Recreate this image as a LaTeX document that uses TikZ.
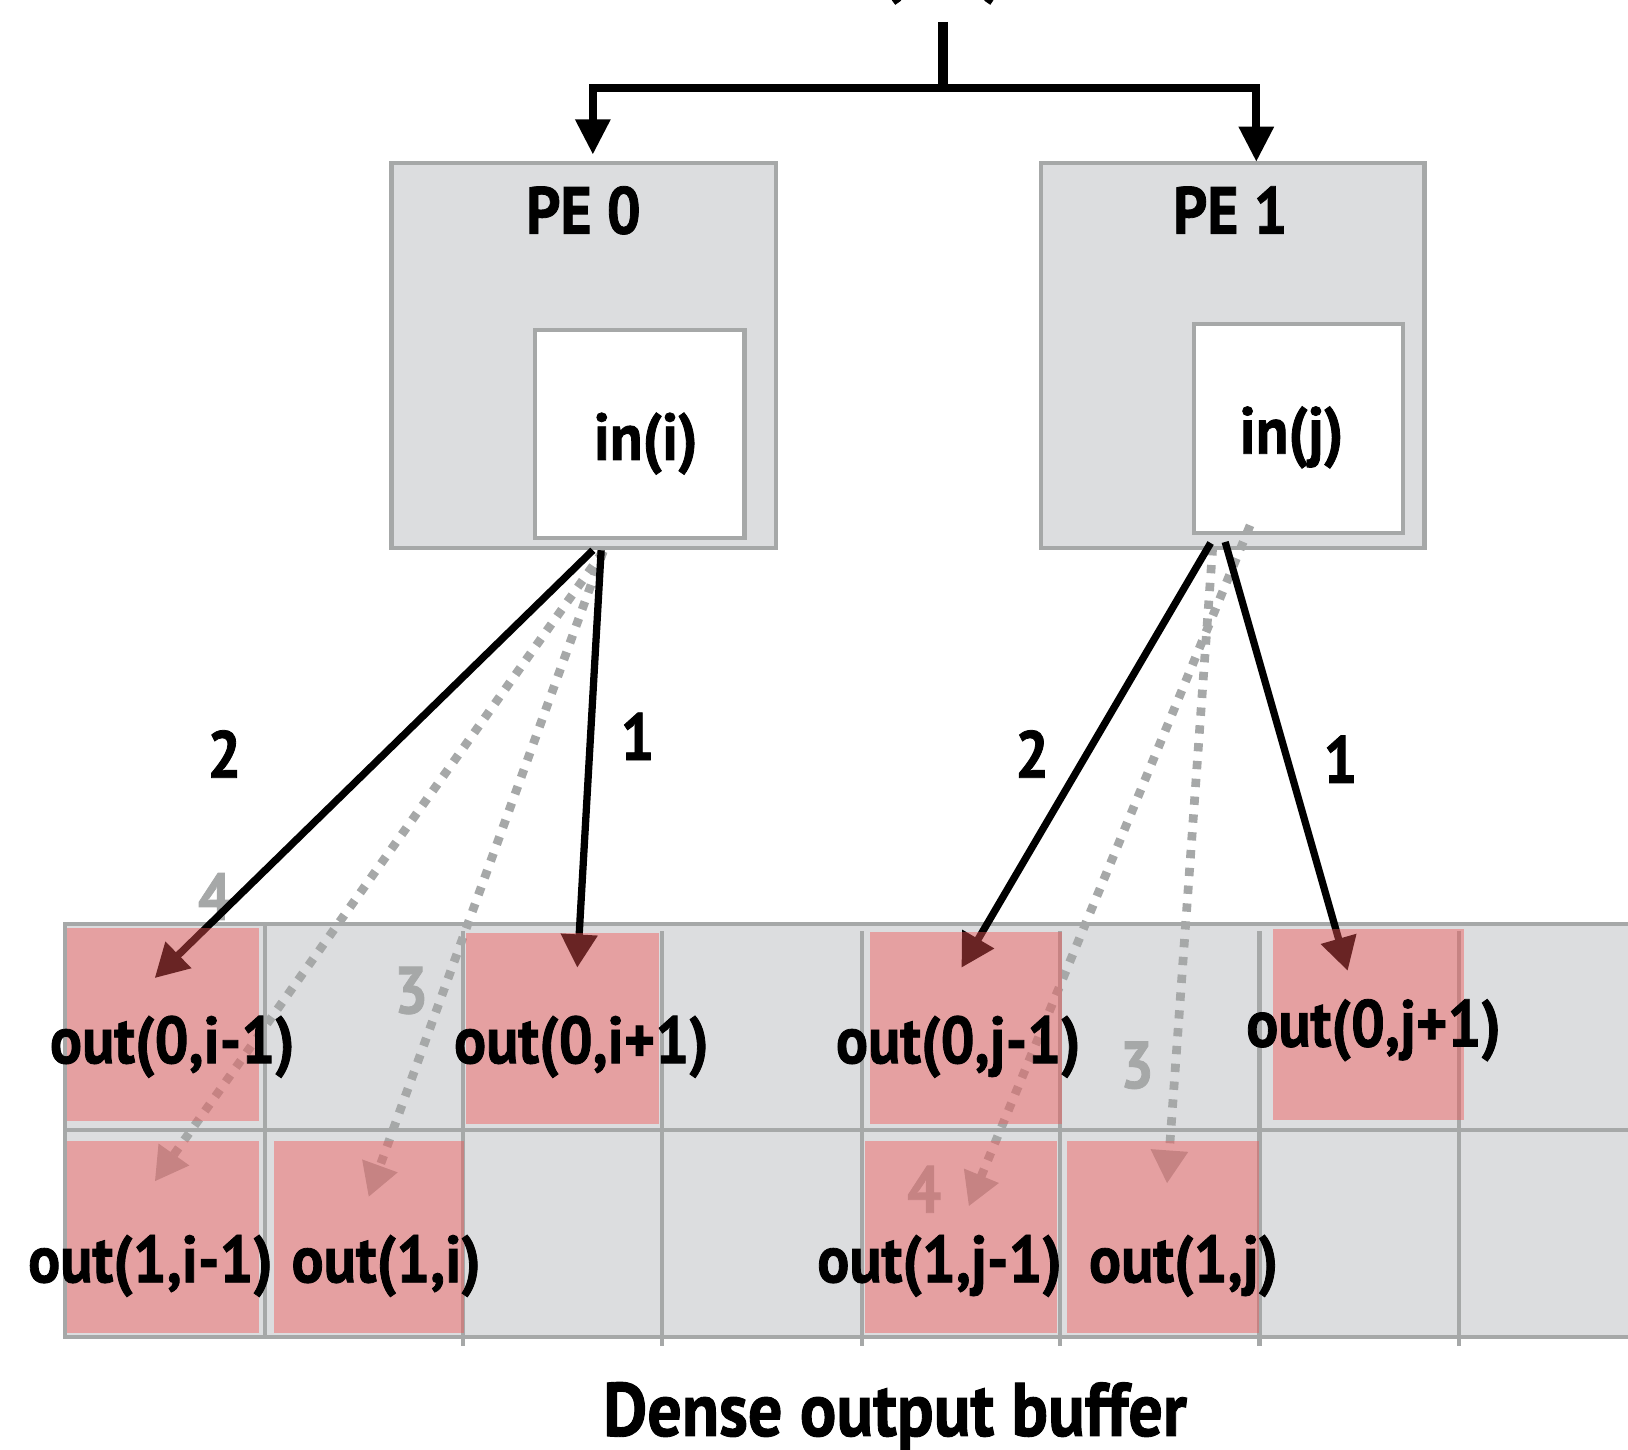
\documentclass[tikz,border=0pt]{standalone}
\usepackage{fontspec}
\usetikzlibrary{arrows.meta,fit}
\newfontfamily\lblfamily[FakeStretch=0.9,BoldFeatures={FakeStretch=0.9,FakeBold=1.2}]{PT Sans}
\newcommand{\lblfont}{\lblfamily\bfseries\fontsize{32}{38}\selectfont}
\newcommand{\capfont}{\lblfamily\bfseries\fontsize{36.5}{42}\selectfont}
\definecolor{boxgray}{RGB}{220,221,223}
\definecolor{linegray}{RGB}{166,168,168}
\definecolor{cellred}{RGB}{241,84,84}
\tikzset{
  pebox/.style={draw=linegray, line width=2pt, fill=boxgray, inner sep=0pt},
  inbox/.style={draw=linegray, line width=2pt, fill=white, inner sep=0pt},
  gridline/.style={draw=linegray, line width=2pt},
  hit/.style={fill=cellred, fill opacity=0.44, inner sep=0pt},
  lbl/.style={font=\lblfont, text=black, inner sep=0pt, anchor=base},
  grynum/.style={font=\lblfont, text=linegray, inner sep=0pt, anchor=base},
  tree/.style={line width=4pt, -{Triangle[length=17pt,width=16pt]}},
  flow/.style={line width=3.5pt, -{Triangle[length=16pt,width=17pt]}},
  spill/.style={draw=linegray, line width=4.2pt, dash pattern=on 4pt off 4.6pt,
                -{Triangle[length=16pt,width=17pt]}},
}
\begin{document}
\begin{tikzpicture}[x=0.5pt,y=-0.5pt]
\useasboundingbox (0,0) rectangle (1568,1396);
\clip (0,0) rectangle (1568,1396);

% processing elements
\node[pebox, fit={(377,157) (747,528)}] (pe0) {};
\node[pebox, fit={(1003,157) (1372,528)}] (pe1) {};
\node[inbox, fit={(515,318) (717,518)}] (inI) {};
\node[inbox, fit={(1150,312) (1351,513)}] (inJ) {};

% distribution tree at the top
\node[lbl] (src) at (908,-10) {(0,1)};
\coordinate (stem) at (908,21);
\coordinate (fork) at (908,85);
\coordinate (tip0) at (571,149);
\coordinate (tip1) at (1210,156);
\draw[line width=4.8pt] (stem) -- ([yshift=2pt]fork);
\draw[tree] (fork) -| (tip0);
\draw[tree] (fork) -| (tip1);

% dense output buffer grid
\node[pebox, fit={(63,890) (1620,1288)}] (buf) {};
\draw[gridline] (buf.west |- 0,1088) -- (1620,1088);
\draw[gridline] (255,890) -- (255,1288);
\foreach \x in {446,638,830,1021,1213,1405}
  \draw[gridline] (\x,897) -- (\x,1296);

% step numbers
\node[lbl] (n2a) at (216,749) {2};
\node[lbl] (n1a) at (614,732) {1};
\node[lbl] (n2b) at (994,749) {2};
\node[lbl] (n1b) at (1291,754) {1};
\node[grynum] (n4a) at (207,886) {4};
\node[grynum] (n3a) at (396,976) {3};
\node[grynum] (n3b) at (1095,1048) {3};
\node[grynum] (n4b) at (890,1168) {4};

% arrow origins and targets
\coordinate (a2) at (571,530);
\coordinate (a1) at (579,530);
\coordinate (as) at (581,531);
\coordinate (b2) at (1166,523);
\coordinate (b1) at (1180,522);
\coordinate (b3) at (1168,527);
\coordinate (b4) at (1204,506);
\coordinate (t00) at (149,942);
\coordinate (t02) at (556,932);
\coordinate (t10) at (149,1138);
\coordinate (t11) at (355,1153);
\coordinate (t04) at (926,932);
\coordinate (t06) at (1298,935);
\coordinate (t15) at (1124,1140);
\coordinate (t14) at (933,1162);

\draw[spill] (as) -- (t10);
\draw[spill] (as) -- (t11);
\draw[spill] (b4) -- (t14);
\draw[spill] (b3) -- (t15);
\draw[flow] (a2) -- (t00);
\draw[flow] (a1) -- (t02);
\draw[flow] (b2) -- (t04);
\draw[flow] (b1) -- (t06);

% written cells
\node[hit, fit={(65,894) (249,1080)}] (c00) {};
\node[hit, fit={(449,899) (635,1083)}] (c02) {};
\node[hit, fit={(838,898) (1023,1083)}] (c04) {};
\node[hit, fit={(1226,895) (1410,1079)}] (c06) {};
\node[hit, fit={(65,1099) (249,1284)}] (c10) {};
\node[hit, fit={(264,1099) (447,1284)}] (c11) {};
\node[hit, fit={(833,1099) (1018,1284)}] (c14) {};
\node[hit, fit={(1028,1099) (1213,1284)}] (c15) {};

% labels
\node[lbl] (lpe0) at (562,225) {PE 0};
\node[lbl] (lpe1) at (1185,225) {PE 1};
\node[lbl] (lini) at (622,443) {in(i)};
\node[lbl] (linj) at (1244,437) {in(j)};
\node[lbl] (o00) at (166,1024) {out(0,i-1)};
\node[lbl] (o02) at (560,1024) {out(0,i+1)};
\node[lbl] (o04) at (923,1024) {out(0,j-1)};
\node[lbl] (o06) at (1323,1008) {out(0,j+1)};
\node[lbl] (o10) at (145,1235) {out(1,i-1)};
\node[lbl] (o11) at (372,1235) {out(1,i)};
\node[lbl] (o14) at (905,1235) {out(1,j-1)};
\node[lbl] (o15) at (1140,1235) {out(1,j)};
\node[lbl, font=\capfont] (cap) at (862,1383) {Dense output buffer};
\end{tikzpicture}
\end{document}
